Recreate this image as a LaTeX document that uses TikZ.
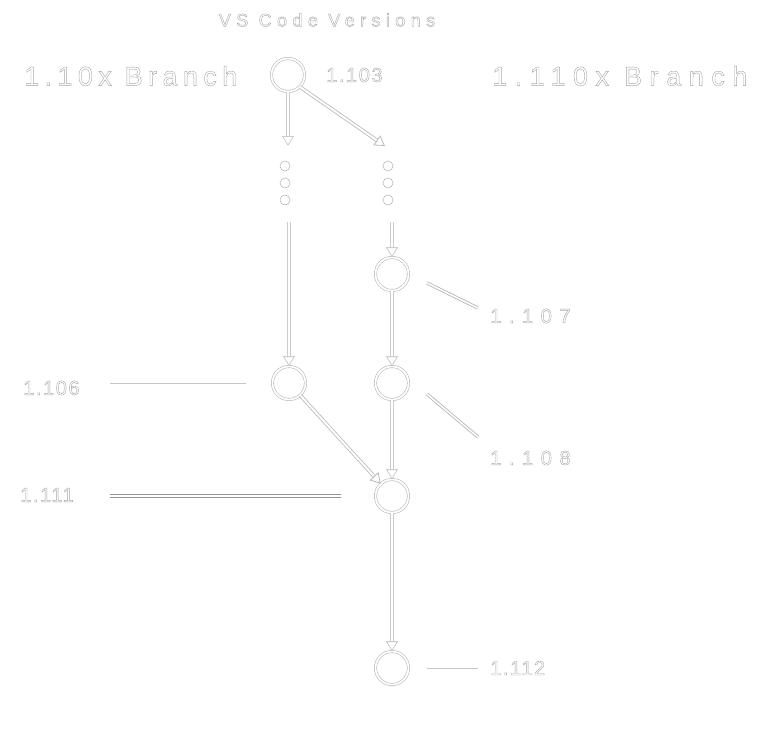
\documentclass[tikz,border=0pt]{standalone}
\usepackage{fontspec}
\setmainfont{Liberation Sans}
\usetikzlibrary{arrows.meta}
\newcommand{\otext}[1]{\special{pdf:literal direct q 1 Tr 0.4 w}#1\special{pdf:literal direct Q}}
\begin{document}
\begin{tikzpicture}[x=1pt,y=-1pt,
  vnode/.style={circle, minimum size=33pt, inner sep=0pt, draw=gray!60, line width=0.55pt, double=white, double distance=1.8pt},
  dotn/.style={circle, minimum size=10pt, inner sep=0pt, draw=gray!60, line width=0.5pt},
  conn/.style={draw=gray!40, line width=0.8pt, double=white, double distance=2pt, -{Triangle[open,length=10pt,width=12pt]}},
  lead/.style={draw=gray!45, line width=0.8pt, double=white, double distance=1.6pt},
  thinlead/.style={draw=gray!45, line width=0.7pt, double=white, double distance=0.6pt},
  lbl/.style={inner sep=0pt, anchor=west, text=gray!70, font=\fontsize{20}{24}\selectfont\addfontfeature{LetterSpace=25}},
  blbl/.style={inner sep=0pt, anchor=west, text=gray!70, font=\fontsize{27}{32}\selectfont\addfontfeature{LetterSpace=20}},
  ttl/.style={inner sep=0pt, text=gray!70, font=\fontsize{18}{22}\selectfont\addfontfeature{LetterSpace=30}}]
\useasboundingbox (0,0) rectangle (771,755);
\fill[white] (0,0) rectangle (771,755);

% title and branch labels
\node[ttl] (title) at (327,20) {\otext{VS Code Versions}};
\node[blbl] (lbranch) at (24,76) {\otext{1.10x Branch}};
\node[blbl] (rbranch) at (492,76) {\otext{\addfontfeature{LetterSpace=28}1.110x Branch}};

% version nodes
\node[vnode] (n103) at (288,75) {};
\node[vnode] (n107) at (392,274) {};
\node[vnode] (n106) at (289,383) {};
\node[vnode] (n108) at (392,383) {};
\node[vnode] (n111) at (392,496) {};
\node[vnode] (n112) at (392,668) {};

% ellipsis dots
\node[dotn] (dl1) at (285,166) {};
\node[dotn] (dl2) at (285,183) {};
\node[dotn] (dl3) at (285,200) {};
\node[dotn] (dr1) at (388,166) {};
\node[dotn] (dr2) at (388,183) {};
\node[dotn] (dr3) at (388,200) {};

% arrow ends
\coordinate (a1) at (288,146);
\coordinate (a2) at (385,146);
\coordinate (l1) at (289,222);
\coordinate (r1) at (392,222);

\draw[conn] (n103.south) -- (a1);
\draw[conn, draw=gray!55] (n103.south east) -- (a2);
\draw[conn] (l1) -- (n106.north);
\draw[conn] (r1) -- (n107.north);
\draw[conn] (n107.south) -- (n108.north);
\draw[conn] (n108.south) -- (n111.north);
\draw[conn, draw=gray!55] (n106) -- (n111);
\draw[conn] (n111.south) -- (n112.north);

% version labels and leaders
\node[lbl] (t103) at (326,75) {\otext{\addfontfeature{LetterSpace=8}1.103}};
\node[lbl] (t107) at (490,316) {\otext{\addfontfeature{LetterSpace=38}1.107}};
\node[lbl] (t108) at (490,458) {\otext{\addfontfeature{LetterSpace=38}1.108}};
\node[lbl] (t106) at (23,388) {\otext{\addfontfeature{LetterSpace=8}1.106}};
\node[lbl] (t111) at (20,495) {\otext{\addfontfeature{LetterSpace=8}1.111}};
\node[lbl] (t112) at (490,668) {\otext{\addfontfeature{LetterSpace=8}1.112}};

\coordinate (k107a) at (427,283); \coordinate (k107b) at (478,308);
\coordinate (k108a) at (427,394); \coordinate (k108b) at (478,437);
\coordinate (k106a) at (110,384); \coordinate (k106b) at (246,384);
\coordinate (k111a) at (110,496); \coordinate (k111b) at (341,496);
\coordinate (k112a) at (427,669); \coordinate (k112b) at (478,669);
\draw[lead, draw=gray!60] (k107a) -- (k107b);
\draw[lead, draw=gray!60] (k108a) -- (k108b);
\draw[thinlead] (k106a) -- (k106b);
\draw[lead, draw=gray!85] (k111a) -- (k111b);
\draw[thinlead] (k112a) -- (k112b);
\end{tikzpicture}
\end{document}
